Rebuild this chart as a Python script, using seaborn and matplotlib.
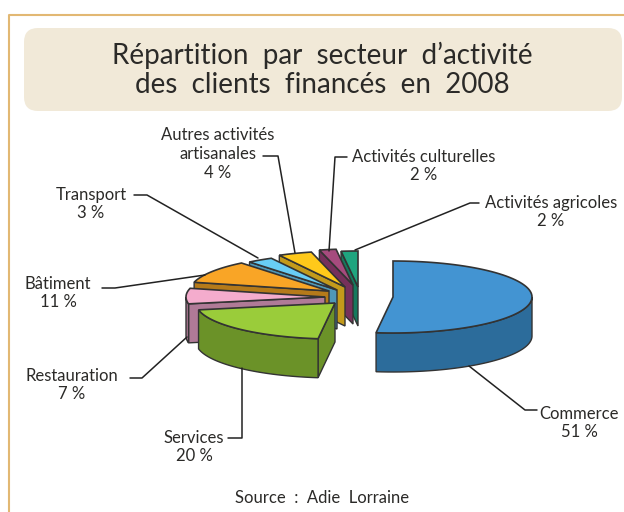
from matplotlib import pyplot as plt
from matplotlib.patches import FancyBboxPatch
import numpy as np
import seaborn as sns

sectors = ['Commerce', 'Services', 'Restauration', 'Bâtiment', 'Transport',
           'Autres activités\nartisanales', 'Activités culturelles', 'Activités agricoles']
percents = [51, 20, 7, 11, 3, 4, 2, 2]

top_colors = ['#4394D2', '#9ACC3A', '#F4ACCD', '#F9A526', '#68CDF5', '#FFC91A', '#A64B7E', '#1FA57F']
side_colors = ['#2C6C9B', '#6B9228', '#B07A97', '#B57A1A', '#4F98B8', '#C39A1B', '#76305B', '#157A5E']

# layout in pixels of the picture
apex = [(393, 297), (335, 303), (325, 297), (329, 291), (337, 290), (345, 287), (353, 285), (358, 287)]
edge_shift = [0, 3.4, 3.4, 3.2, 0.6, 0.6, 0.4, 0.2, 0]
rx, ry, depth = 139, 36, 39
dark = '#333333'

label_xy = [(579, 423), (194, 447), (72, 385), (58, 293), (91, 204), (218, 154), (424, 166), (551, 212)]
leaders = [
    [(469, 366), (525, 410), (537, 410)],
    [(242, 368), (242, 438), (228, 438)],
    [(187, 337), (142, 378), (130, 378)],
    [(205, 275), (115, 288), (102, 288)],
    [(258, 258), (147, 195), (134, 195)],
    [(295, 253), (278, 156), (263, 156)],
    [(329, 251), (335, 157), (347, 157)],
    [(355, 250), (470, 203), (479, 203)],
]

sns.set_theme(style='white')
plt.rcParams['font.family'] = ['Lato', 'DejaVu Sans']
tops = sns.color_palette(top_colors)
sides = sns.color_palette(side_colors)

fig = plt.figure(figsize=(6.24, 5.12), dpi=100)
ax = fig.add_axes([0, 0, 1, 1])
ax.set_xlim(0, 624)
ax.set_ylim(512, 0)
ax.axis('off')


def arc(i, t0, t1):
    t = np.radians(np.linspace(t0, t1, 80))
    return apex[i][0] + rx * np.sin(t), apex[i][1] - ry * np.cos(t)


# page frame and title box
ax.plot([8.5, 8.5, 624], [512, 14.5, 14.5], color='#E2B873', lw=1.5)
ax.add_patch(FancyBboxPatch((24, 28), 598, 83, boxstyle='round,pad=0,rounding_size=14',
                            fc='#F1E9D8', ec='none'))
ax.text(322, 70, 'Répartition  par  secteur  d’activité\ndes  clients  financés  en  2008', ha='center',
        va='center', fontsize=20, color='#2b2a28', linespacing=1.12)

for pts in leaders:
    xs, ys = zip(*pts)
    sns.lineplot(x=list(xs), y=list(ys), ax=ax, color='#222222', lw=1.1, sort=False, estimator=None)

# pie from the values, back sectors first so the front ones cover them
edges = np.concatenate([[0], np.cumsum(percents)]) * 3.6 + np.array(edge_shift)
for i in list(range(len(percents) - 1, 0, -1)) + [0]:
    t0, t1 = edges[i], edges[i + 1]
    x0, y0 = apex[i]
    ax_, ay_ = arc(i, t0, t1)
    # cut face, left half of the pie only
    if t0 > 180:
        sx, sy = arc(i, t0, t0)
        ax.fill([x0, sx[0], sx[0], x0], [y0, sy[0], sy[0] + depth, y0 + depth], fc=sides[i], ec=dark, lw=1)
    # outer rim where it faces the viewer
    lo, hi = max(t0, 90), min(t1, 270)
    if lo < hi:
        rxs, rys = arc(i, lo, hi)
        ax.fill(np.r_[rxs, rxs[::-1]], np.r_[rys, rys[::-1] + depth], fc=sides[i], ec=dark, lw=1)
    ax.fill(np.r_[x0, ax_], np.r_[y0, ay_], fc=tops[i], ec=dark, lw=1.2)

for name, value, (lx, ly) in zip(sectors, percents, label_xy):
    ax.text(lx, ly, f'{name}\n{value} %', ha='center', va='center', fontsize=12, color='#2b2a28', linespacing=1.2)

ax.text(322, 498, 'Source  :  Adie  Lorraine', ha='center', va='center', fontsize=12, color='#2b2a28')

fig.savefig('out.png', dpi=100)
